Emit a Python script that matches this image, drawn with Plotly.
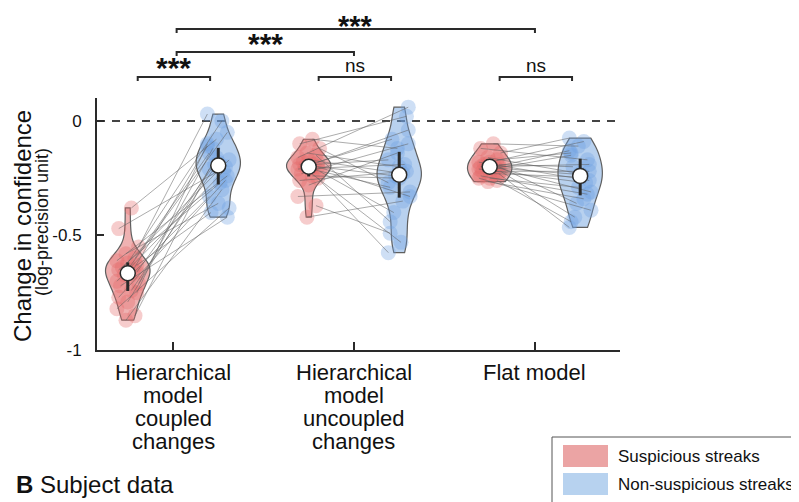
import numpy as np
import plotly.graph_objects as go

# ---------------- data ----------------
GROUP_LABELS = [
    ["Hierarchical", "model", "coupled", "changes"],
    ["Hierarchical", "model", "uncoupled", "changes"],
    ["Flat model"],
]
SERIES_NAMES = ["Suspicious streaks", "Non-suspicious streaks"]

# per-subject change in confidence (log-precision unit); index = subject
susp_coupled = [-0.38, -0.47, -0.55, -0.58, -0.60, -0.61, -0.62, -0.63, -0.64, -0.65, -0.65, -0.66,
                -0.67, -0.68, -0.70, -0.71, -0.72, -0.74, -0.75, -0.77, -0.79, -0.82, -0.85, -0.87]
nonsusp_coupled = [-0.08, -0.20, 0.03, -0.36, -0.14, -0.24, 0.00, -0.40, -0.17, -0.11, -0.27, -0.19,
                   -0.05, -0.33, -0.22, -0.12, -0.42, -0.18, -0.10, -0.26, -0.16, -0.38, -0.21, -0.30]

susp_uncoupled = [-0.08, -0.10, -0.12, -0.14, -0.15, -0.16, -0.17, -0.18, -0.18, -0.19, -0.19, -0.20,
                  -0.20, -0.21, -0.21, -0.22, -0.23, -0.24, -0.25, -0.26, -0.28, -0.33, -0.37, -0.42]
nonsusp_uncoupled = [-0.12, 0.02, -0.27, -0.20, -0.44, 0.06, -0.23, -0.08, -0.33, -0.17, -0.53, -0.24,
                     -0.04, -0.29, -0.19, -0.40, -0.10, -0.25, -0.575, -0.22, -0.14, -0.31, -0.49, -0.35]

susp_flat = [-0.10, -0.12, -0.14, -0.16, -0.17, -0.18, -0.18, -0.19, -0.19, -0.20, -0.20, -0.20,
             -0.20, -0.21, -0.21, -0.22, -0.22, -0.23, -0.23, -0.24, -0.25, -0.25, -0.26, -0.265]
nonsusp_flat = [-0.11, -0.17, -0.075, -0.23, -0.14, -0.26, -0.09, -0.20, -0.31, -0.13, -0.235, -0.36,
                -0.19, -0.15, -0.27, -0.42, -0.22, -0.245, -0.465, -0.32, -0.29, -0.39, -0.44, -0.34]

SUSP = [susp_coupled, susp_uncoupled, susp_flat]
NONSUSP = [nonsusp_coupled, nonsusp_uncoupled, nonsusp_flat]

Y_TICKS = [-1, -0.5, 0]
Y_TICK_TEXT = ["-1", "-0.5", "0"]
Y_TITLE = "Change in confidence"
Y_SUBTITLE = "(log-precision unit)"
PANEL_B = "<b>B</b> Subject data"

SIG_WITHIN = ["***", "ns", "ns"]              # suspicious vs non-suspicious in each model
SIG_BETWEEN = [(0, 1, "***"), (0, 2, "***")]  # model vs model

# ---------------- style ----------------
FONT = "Liberation Sans, Arial, Helvetica, sans-serif"
SHIFT = 8                      # page body margin of the html output
W, H = 799 - SHIFT, 502 - SHIFT
PL, PR, PT, PB = 97, 620, 98, 350   # plot area in screenshot pixels
ML, MT = PL - SHIFT, PT - SHIFT
PW, PH = PR - PL, PB - PT
MR, MB = W - ML - PW, H - MT - PH
X0, X1 = 0.58, 3.47
OFF = 0.25
BW = [[0.045, 0.05], [0.035, 0.055], [0.06, 0.058]]  # kde bandwidths

JITTER_A = [0.02, -0.05, 0.06, -0.01, 0.04, -0.06, 0.00, 0.05, -0.03, 0.03, -0.05, 0.05,
            -0.02, 0.01, -0.06, 0.06, -0.04, 0.02, 0.05, -0.05, 0.00, -0.06, 0.04, -0.01]
JITTER_B = JITTER_A[::-1]

RED_FILL = "rgba(222,92,92,0.47)"
BLUE_FILL = "rgba(105,158,222,0.47)"
RED_PT = "rgba(228,105,105,0.34)"
BLUE_PT = "rgba(110,162,226,0.34)"
DARK = "#2a2a2a"


def px_x(px):
    return (px - PL) / PW


def px_y(py):
    return (PB - py) / PH


def dx(x):
    return (x - X0) / (X1 - X0)


fig = go.Figure()

# violins
for gi in range(3):
    pos = gi + 1
    for si, (vals, o, fill) in enumerate(((SUSP[gi], -OFF, RED_FILL), (NONSUSP[gi], OFF, BLUE_FILL))):
        fig.add_trace(go.Violin(
            x=[pos + o] * len(vals), y=vals, width=0.245, side="both", spanmode="hard",
            bandwidth=BW[gi][si],
            points=False, box_visible=False, meanline_visible=False, scalemode="width",
            fillcolor=fill, line=dict(color="#5f5f5f", width=1.2), showlegend=False,
            hoverinfo="skip"))

# jittered points
for gi in range(3):
    pos = gi + 1
    fig.add_trace(go.Scatter(
        x=[pos - OFF + j for j in JITTER_A], y=SUSP[gi], mode="markers",
        marker=dict(size=15, color=RED_PT, line=dict(width=0)), showlegend=False, hoverinfo="skip"))
    fig.add_trace(go.Scatter(
        x=[pos + OFF + j for j in JITTER_B], y=NONSUSP[gi], mode="markers",
        marker=dict(size=15, color=BLUE_PT, line=dict(width=0)), showlegend=False, hoverinfo="skip"))

# paired lines
for gi in range(3):
    pos = gi + 1
    lx, ly = [], []
    for k, (a, b) in enumerate(zip(SUSP[gi], NONSUSP[gi])):
        lx += [pos - OFF + JITTER_A[k], pos + OFF + JITTER_B[k], None]
        ly += [a, b, None]
    fig.add_trace(go.Scatter(x=lx, y=ly, mode="lines",
                             line=dict(color="rgba(95,95,95,0.58)", width=0.9),
                             showlegend=False, hoverinfo="skip"))

# IQR + median
for gi in range(3):
    pos = gi + 1
    for vals, o in ((SUSP[gi], -OFF), (NONSUSP[gi], OFF)):
        q1, q3 = np.percentile(vals, [25, 75])
        med = float(np.median(vals))
        fig.add_trace(go.Scatter(x=[pos + o, pos + o], y=[q1, q3], mode="lines",
                                 line=dict(color=DARK, width=3), showlegend=False, hoverinfo="skip"))
        fig.add_trace(go.Scatter(x=[pos + o], y=[med], mode="markers",
                                 marker=dict(size=15, color="white", line=dict(color=DARK, width=1.5)),
                                 showlegend=False, hoverinfo="skip"))

shapes = []
annotations = []

# zero dashed line
shapes.append(dict(type="line", xref="paper", yref="y", x0=0, x1=1, y0=0, y1=0,
                   line=dict(color="#444", width=2, dash="8px,7px"), layer="below"))


def bracket(xa, xb, ypix, label, lab_dy, size, bold):
    y = px_y(ypix)
    yt = px_y(ypix + 4)
    shapes.append(dict(type="path", xref="paper", yref="paper",
                       path=f"M {dx(xa)},{yt} L {dx(xa)},{y} L {dx(xb)},{y} L {dx(xb)},{yt}",
                       line=dict(color=DARK, width=2)))
    annotations.append(dict(x=(dx(xa) + dx(xb)) / 2, y=px_y(ypix - lab_dy), xref="paper", yref="paper",
                            text=f"<b>{label}</b>" if bold else label, showarrow=False,
                            xanchor="center", yanchor="middle",
                            font=dict(family=FONT, size=size, color="#111")))


for gi, lab in enumerate(SIG_WITHIN):
    c = gi + 1
    if lab == "ns":
        bracket(c - 0.195, c + 0.205, 77, lab, 12, 19, False)
    else:
        bracket(c - 0.195, c + 0.205, 77, lab, 9, 30, True)
for (ga, gb, lab), ypix, ldy, fs in zip(SIG_BETWEEN, [52, 29], [9, 3], [30, 29]):
    bracket(ga + 1 + 0.02, gb + 1, ypix, lab, ldy, fs, True)

# category labels (tight line spacing)
for gi, lines in enumerate(GROUP_LABELS):
    for li, txt in enumerate(lines):
        annotations.append(dict(x=gi + 1, y=px_y(372 + 23 * li), xref="x", yref="paper", text=txt,
                                showarrow=False, xanchor="center", yanchor="middle",
                                font=dict(family=FONT, size=22, color="#111")))

# y title
annotations.append(dict(x=px_x(22), y=px_y(226), xref="paper", yref="paper", text=Y_TITLE,
                        textangle=-90, showarrow=False, xanchor="center", yanchor="middle",
                        font=dict(family=FONT, size=24, color="#111")))
annotations.append(dict(x=px_x(42), y=px_y(222), xref="paper", yref="paper", text=Y_SUBTITLE,
                        textangle=-90, showarrow=False, xanchor="center", yanchor="middle",
                        font=dict(family=FONT, size=18, color="#111")))

# legend box
shapes.append(dict(type="rect", xref="paper", yref="paper", x0=px_x(552), x1=px_x(815),
                   y0=px_y(515), y1=px_y(437), line=dict(color="#555", width=1), fillcolor="white"))
for i, (name, col) in enumerate(zip(SERIES_NAMES, ["#eba4a4", "#b7d2ef"])):
    top = 445 + 28 * i
    shapes.append(dict(type="rect", xref="paper", yref="paper", x0=px_x(563), x1=px_x(608),
                       y0=px_y(top + 22), y1=px_y(top), line=dict(width=0), fillcolor=col))
    annotations.append(dict(x=px_x(616), y=px_y(top + 11), xref="paper", yref="paper", text=name,
                            showarrow=False, xanchor="left", yanchor="middle",
                            font=dict(family=FONT, size=17, color="#111")))

# panel B heading (kept fully inside the page)
annotations.append(dict(x=px_x(14), y=px_y(500), xref="paper", yref="paper",
                        text=PANEL_B, showarrow=False, xanchor="left", yanchor="bottom",
                        font=dict(family=FONT, size=24, color="#111")))

fig.update_layout(
    width=W, height=H, margin=dict(l=ML, r=MR, t=MT, b=MB, autoexpand=False),
    paper_bgcolor="white", plot_bgcolor="white", violinmode="overlay",
    xaxis=dict(range=[X0, X1], showgrid=False, zeroline=False, showline=True, linecolor=DARK,
               linewidth=2, ticks="inside", ticklen=8, tickwidth=1.5, tickcolor=DARK,
               tickvals=[1, 2, 3], showticklabels=False, fixedrange=True),
    yaxis=dict(range=[-1, 0.1], showgrid=False, zeroline=False, showline=True, linecolor=DARK,
               linewidth=2, ticks="inside", ticklen=7, tickwidth=1.5, tickcolor=DARK,
               tickvals=Y_TICKS, ticktext=Y_TICK_TEXT, ticklabelstandoff=10,
               tickfont=dict(family=FONT, size=17, color="#111"), fixedrange=True),
    shapes=shapes, annotations=annotations, showlegend=False,
)

fig.write_html("out.html")
